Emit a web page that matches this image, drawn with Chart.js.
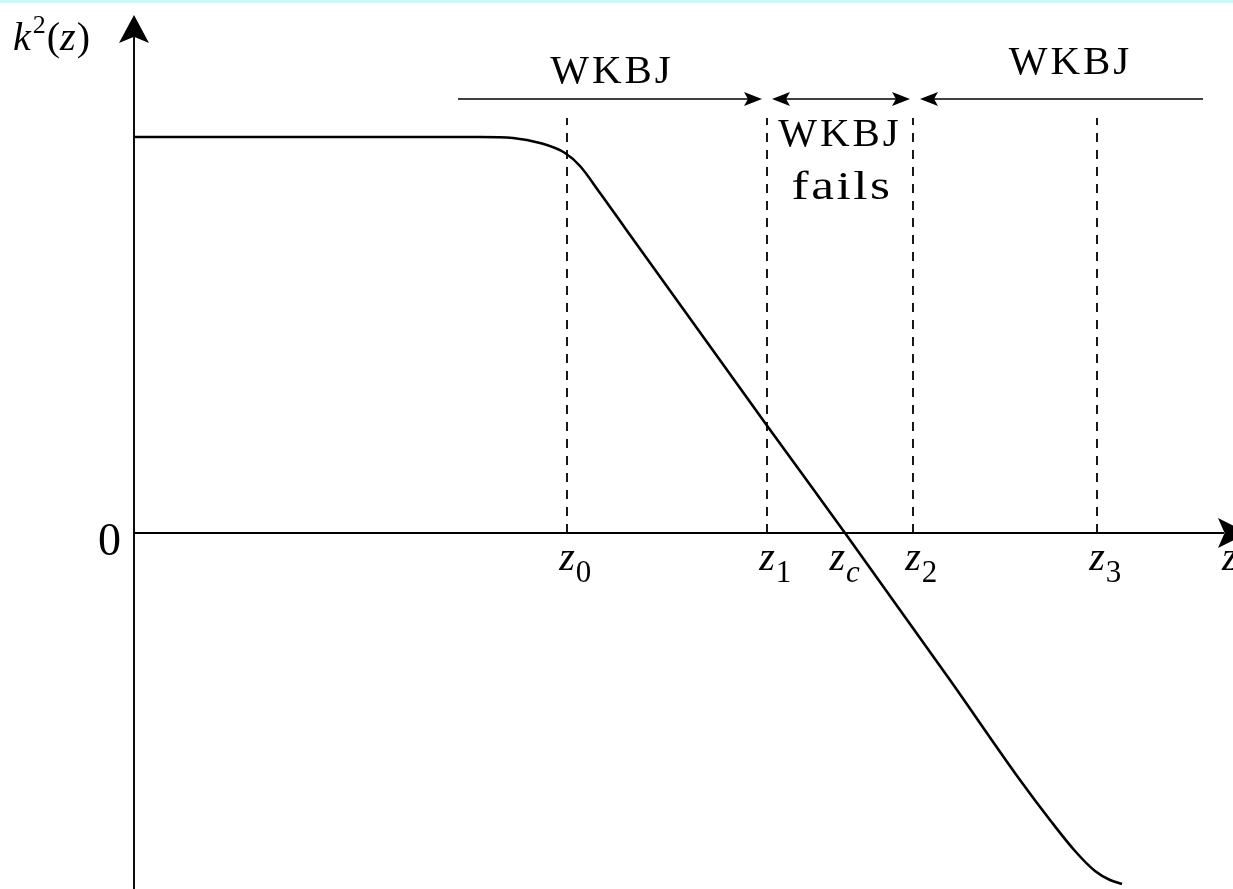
<!DOCTYPE html>
<html>
<head>
<meta charset="utf-8">
<script src="https://cdn.jsdelivr.net/npm/chart.js@4/dist/chart.umd.min.js"></script>
<style>
  html, body { margin: 0; padding: 0; background: #fff; overflow: hidden; }
  #wrap { position: relative; width: 1233px; height: 889px; }
  canvas { display: block; }
</style>
</head>
<body>
<div id="wrap"><canvas id="c" width="1233" height="889"></canvas></div>
<script>
// k^2(z) profile: constant plateau, linear fall through zero at z_c, levelling off at the bottom
const curveZ = [0, 3.46, 3.79, 4.06, 4.31, 4.46, 4.66, 4.91, 6.34, 7.11, 8.16, 8.86, 9.16, 9.41, 9.61, 9.76, 9.88];
const curveK = [3.96, 3.96, 3.95, 3.90, 3.80, 3.67, 3.40, 3.05, 1.06, 0, -1.47, -2.47, -2.87, -3.18, -3.38, -3.47, -3.51];

// marked heights on the z axis
const markZ   = [4.33, 6.33, 7.11, 7.79, 9.63];
const markSub = ['0', '1', 'c', '2', '3'];

// dashed guides rising from the z axis
const guideZ   = [4.33, 6.33, 7.79, 9.63];
const guideTop = 4.15;

// regions where the WKBJ approximation holds / fails
const regionFrom   = [3.24, 6.38, 7.86];
const regionTo     = [6.28, 7.76, 10.69];
const regionText   = [['WKBJ'], ['WKBJ', 'fails'], ['WKBJ']];
const regionArrowK = 4.34;

// axis extents
const zRange = [-1.34, 10.99];
const kRange = [-3.56, 5.33];
const axisTopK = 5.18;
const axisEndZ = 11.14;

const SERIF = '"Liberation Serif", "Times New Roman", serif';

function arrowHead(ctx, tx, ty, dx, dy, len, half) {
  const bx = tx - dx * len, by = ty - dy * len;
  const nx = -dy, ny = dx;
  const mx = tx - dx * len * 0.78, my = ty - dy * len * 0.78;
  ctx.beginPath();
  ctx.moveTo(tx, ty);
  ctx.lineTo(bx + nx * half, by + ny * half);
  ctx.lineTo(mx, my);
  ctx.lineTo(bx - nx * half, by - ny * half);
  ctx.closePath();
  ctx.fill();
}

const decor = {
  id: 'decor',
  beforeDatasetsDraw(chart) {
    const { ctx, scales: { x, y } } = chart;
    const x0 = x.getPixelForValue(0);
    const y0 = y.getPixelForValue(0);
    ctx.save();
    ctx.strokeStyle = '#000';
    ctx.fillStyle = '#000';
    ctx.lineWidth = 1.9;
    // k^2 axis
    const yTop = y.getPixelForValue(axisTopK);
    ctx.beginPath();
    ctx.moveTo(x0, chart.height);
    ctx.lineTo(x0, yTop + 22);
    ctx.stroke();
    arrowHead(ctx, x0, yTop, 0, -1, 28, 15);
    // z axis
    const xEnd = x.getPixelForValue(axisEndZ);
    ctx.beginPath();
    ctx.moveTo(x0, y0);
    ctx.lineTo(xEnd - 24, y0);
    ctx.stroke();
    arrowHead(ctx, xEnd, y0, 1, 0, 30, 15);
    ctx.restore();
  },
  afterDraw(chart) {
    const { ctx, scales: { x, y } } = chart;
    const x0 = x.getPixelForValue(0);
    const y0 = y.getPixelForValue(0);
    ctx.save();
    ctx.fillStyle = '#000';
    ctx.strokeStyle = '#000';

    // region arrows
    const ya = y.getPixelForValue(regionArrowK);
    ctx.lineWidth = 1.6;
    const last = regionFrom.length - 1;
    regionFrom.forEach((z, i) => {
      const a = x.getPixelForValue(z);
      const b = x.getPixelForValue(regionTo[i]);
      ctx.beginPath();
      ctx.moveTo(i > 0 ? a + 12 : a, ya);
      ctx.lineTo(i < last ? b - 12 : b, ya);
      ctx.stroke();
      if (i > 0) arrowHead(ctx, a, ya, -1, 0, 18, 7);
      if (i < last) arrowHead(ctx, b, ya, 1, 0, 18, 7);
    });

    // region labels
    ctx.textAlign = 'center';
    ctx.textBaseline = 'alphabetic';
    ctx.font = '41px ' + SERIF;
    ctx.letterSpacing = '3px';
    const cx0 = (x.getPixelForValue(regionFrom[0]) + x.getPixelForValue(regionTo[0])) / 2;
    ctx.fillText(regionText[0][0], cx0 + 2, ya - 16);
    const cx2 = (x.getPixelForValue(regionFrom[2]) + x.getPixelForValue(regionTo[2])) / 2;
    ctx.fillText(regionText[2][0], cx2 + 9, ya - 25);
    const cx1 = (x.getPixelForValue(markZ[1]) + x.getPixelForValue(markZ[3])) / 2;
    ctx.fillText(regionText[1][0], cx1, ya + 47);
    ctx.save();
    ctx.translate(cx1 + 2, ya + 100);
    ctx.scale(1.28, 1);
    ctx.font = '40px ' + SERIF;
    ctx.letterSpacing = '2px';
    ctx.fillText(regionText[1][1], 0, 0);
    ctx.restore();
    ctx.letterSpacing = '0px';

    // z-axis marks
    ctx.textAlign = 'left';
    const zFont = 'italic 40px ' + SERIF;
    markZ.forEach((z, i) => {
      const px = x.getPixelForValue(z);
      ctx.font = zFont;
      const w = ctx.measureText('z').width;
      const zx = markSub[i] === 'c' ? px - w : px - w / 2;
      ctx.fillText('z', zx, y0 + 37);
      ctx.font = (markSub[i] === 'c' ? 'italic ' : '') + '31px ' + SERIF;
      ctx.fillText(markSub[i], zx + w + 1, y0 + 49);
    });

    // axis names
    ctx.font = zFont;
    ctx.fillText('z', x.getPixelForValue(axisEndZ) - 26, y0 + 37);
    ctx.font = '46px ' + SERIF;
    ctx.textAlign = 'right';
    ctx.fillText('0', x0 - 13, y0 + 22);

    ctx.textAlign = 'left';
    let tx = 13;
    const base = 50;
    ctx.font = 'italic 40px ' + SERIF;
    ctx.fillText('k', tx, base);
    tx += ctx.measureText('k').width + 2;
    ctx.font = '26px ' + SERIF;
    ctx.fillText('2', tx, base - 17);
    tx += ctx.measureText('2').width + 1;
    ctx.font = '40px ' + SERIF;
    ctx.fillText('(', tx, base);
    tx += ctx.measureText('(').width;
    ctx.font = 'italic 40px ' + SERIF;
    ctx.fillText('z', tx, base);
    tx += ctx.measureText('z').width + 1;
    ctx.font = '40px ' + SERIF;
    ctx.fillText(')', tx, base);

    // thin tinted band along the top edge
    ctx.fillStyle = '#cdf9f9';
    ctx.fillRect(0, 0, chart.width, 3);
    ctx.restore();
  }
};

const profile = curveZ.map((z, i) => ({ x: z, y: curveK[i] }));
const guides = guideZ.map(z => ({
  data: [{ x: z, y: 0 }, { x: z, y: guideTop }],
  borderColor: '#000',
  borderWidth: 1.8,
  borderDash: [9, 8],
  pointRadius: 0,
  showLine: true,
  fill: false
}));

new Chart(document.getElementById('c'), {
  type: 'scatter',
  data: {
    datasets: [
      {
        data: profile,
        borderColor: '#000',
        borderWidth: 2.6,
        pointRadius: 0,
        showLine: true,
        fill: false,
        cubicInterpolationMode: 'monotone'
      },
      ...guides
    ]
  },
  options: {
    responsive: false,
    animation: false,
    devicePixelRatio: 1,
    layout: { padding: 0 },
    plugins: { legend: { display: false }, tooltip: { enabled: false } },
    scales: {
      x: { type: 'linear', min: zRange[0], max: zRange[1], display: false },
      y: { type: 'linear', min: kRange[0], max: kRange[1], display: false }
    }
  },
  plugins: [decor]
});
</script>
</body>
</html>
